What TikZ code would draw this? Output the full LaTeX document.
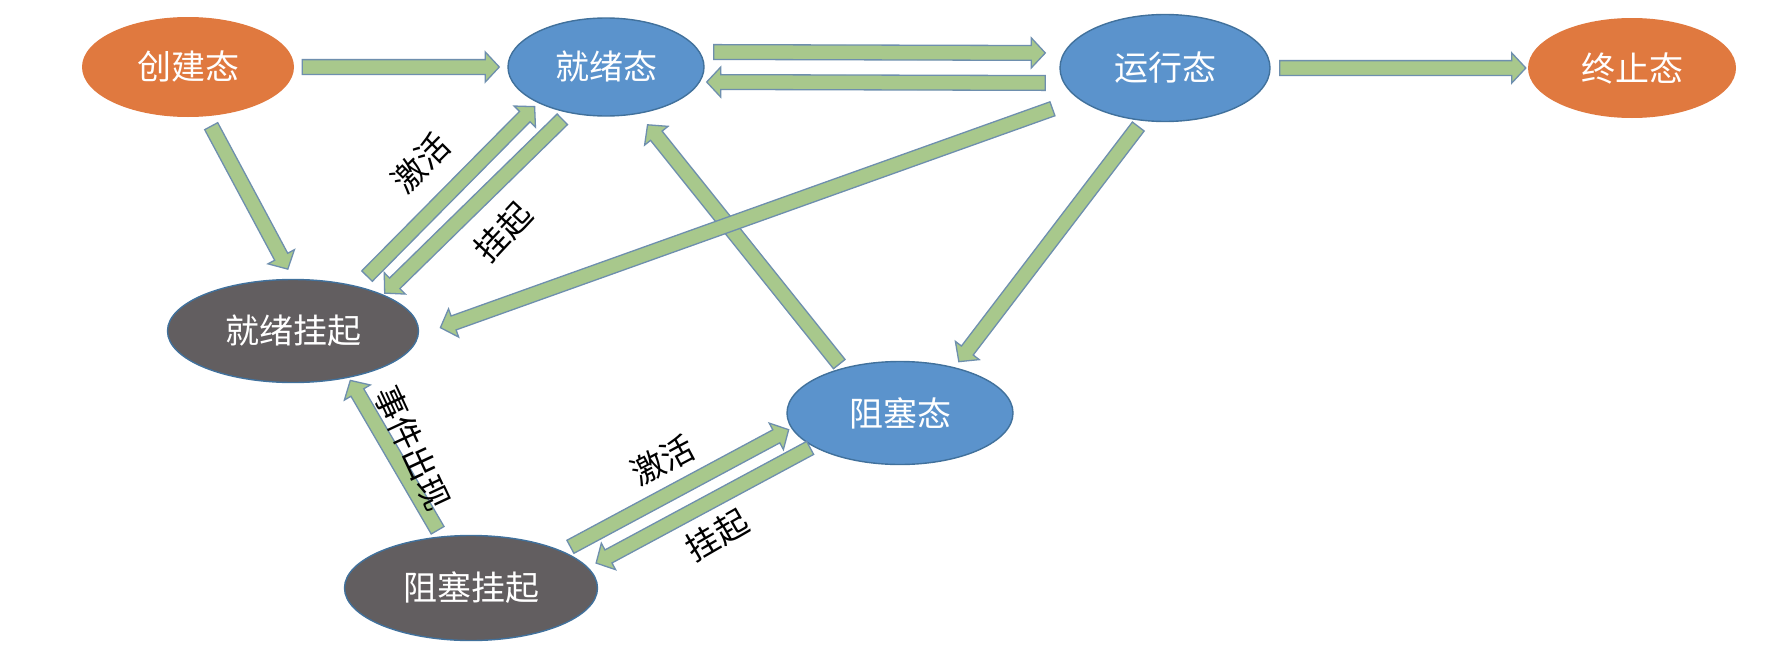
\documentclass[tikz,border=0pt]{standalone}
\usepackage{fontspec}
\setmainfont{Noto Sans CJK SC}
\usetikzlibrary{shapes.geometric,calc}

\definecolor{stateorange}{HTML}{E0793F}
\definecolor{stateblue}{HTML}{5B93CC}
\definecolor{stategray}{HTML}{625E60}
\definecolor{edgeblue}{HTML}{41719C}
\definecolor{arrowgreen}{HTML}{A8C88C}
\definecolor{arrowline}{HTML}{6E8FAE}

\tikzset{
  state/.style={ellipse, inner sep=0pt, text=white, font=\fontsize{34}{34}\selectfont},
  newstate/.style={state, fill=stateorange},
  runstate/.style={state, fill=stateblue, draw=edgeblue, line width=1.4pt},
  suspstate/.style={state, fill=stategray, draw=edgeblue, line width=1.4pt},
  blockarrow/.style={fill=arrowgreen, draw=arrowline, line width=1.3pt, line join=miter},
  lbl/.style={font=\fontsize{33}{33}\selectfont, inner sep=1pt}
}

% wide green arrow: from, to, gap at start, gap at end
\newcommand\blockarrow[4]{%
  \path (#1) -- coordinate[pos=0] (p) coordinate[pos=1] (q) (#2);
  \coordinate (ba) at ($(p)!#3!(q)$);
  \coordinate (bb) at ($(q)!#4!(p)$);
  \coordinate (bh) at ($(bb)!14pt!(ba)$);
  \draw[blockarrow] ($(ba)!7.4pt!90:(bb)$) -- ($(bh)!7.4pt!90:(bb)$)
    -- ($(bh)!15pt!90:(bb)$) -- (bb) -- ($(bh)!15pt!-90:(bb)$)
    -- ($(bh)!7.4pt!-90:(bb)$) -- ($(ba)!7.4pt!-90:(bb)$) -- cycle;
}

\begin{document}
\begin{tikzpicture}[x=1pt, y=-1pt]
  \fill[white] (0,0) rectangle (1788,645);
  \useasboundingbox (0,0) rectangle (1788,645);

  % states
  \node[newstate, minimum width=212pt, minimum height=100pt] (create) at (188,67) {创建态};
  \node[runstate, minimum width=196pt, minimum height=98pt] (ready) at (606,67) {就绪态};
  \node[runstate, minimum width=210pt, minimum height=107pt] (run) at (1165,68) {运行态};
  \node[newstate, minimum width=208pt, minimum height=100pt] (end) at (1632,68) {终止态};
  \node[suspstate, minimum width=251pt, minimum height=103pt] (rsusp) at (293,331) {就绪挂起};
  \node[runstate, minimum width=226pt, minimum height=103pt] (block) at (900,413) {阻塞态};
  \node[suspstate, minimum width=253pt, minimum height=105pt] (bsusp) at (471,588) {阻塞挂起};

  % transitions
  \blockarrow{create}{ready}{8pt}{8pt}
  \blockarrow{[yshift=15pt]ready.east}{[yshift=15pt]run.west}{9pt}{14pt}
  \blockarrow{[yshift=-15pt]run.west}{[yshift=-15pt]ready.east}{14pt}{2pt}
  \blockarrow{run}{end}{9pt}{2pt}
  \blockarrow{create.290}{rsusp.north}{11pt}{11pt}
  \blockarrow{rsusp.35}{ready.208}{14pt}{5pt}
  \blockarrow{ready.231}{rsusp.22}{9pt}{2pt}
  \blockarrow{block.142}{ready.305}{5pt}{14pt}
  \blockarrow{run.200}{rsusp.-2}{28pt}{23pt}
  \blockarrow{run.247}{block.40}{7pt}{7pt}
  \blockarrow{bsusp.120}{rsusp.320}{7pt}{3pt}
  \blockarrow{bsusp.22}{block.188}{9pt}{3pt}
  \blockarrow{block.201}{bsusp.10}{3pt}{9pt}

  % labels
  \node[lbl, rotate=45] (actup) at (421,163) {激活};
  \node[lbl, rotate=47] (suspup) at (503,232) {挂起};
  \node[lbl, rotate=-65] (event) at (413,448) {事件出现};
  \node[lbl, rotate=28] (actlow) at (663,460) {激活};
  \node[lbl, rotate=30] (susplow) at (717,535) {挂起};
\end{tikzpicture}
\end{document}
